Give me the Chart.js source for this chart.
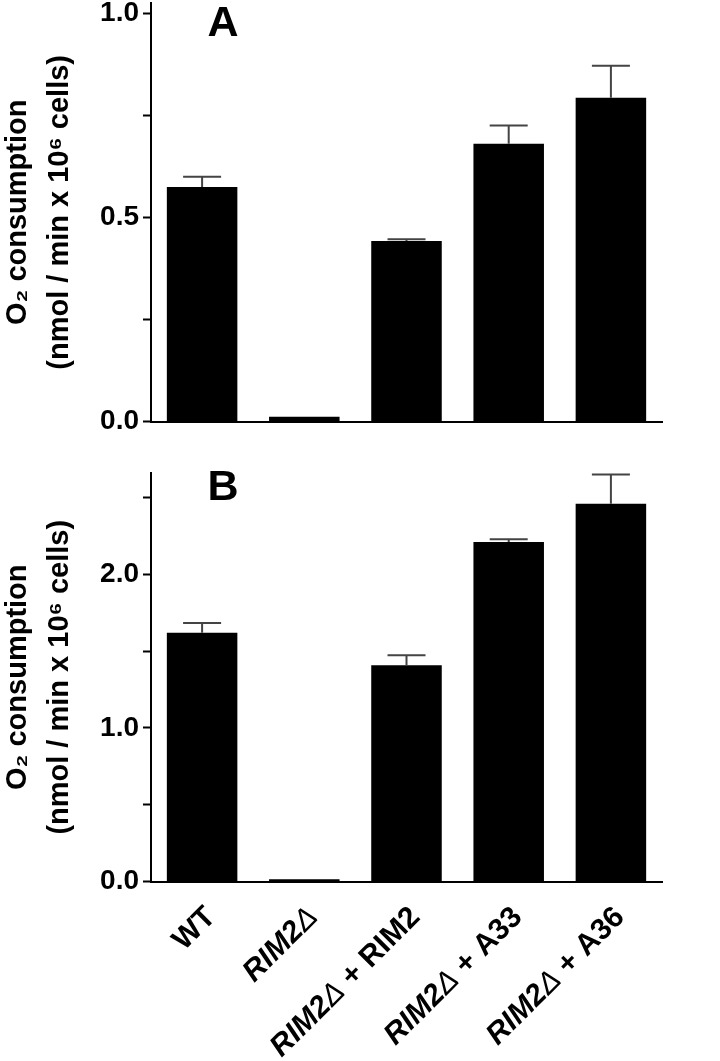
<!DOCTYPE html>
<html>
<head>
<meta charset="utf-8">
<script src="https://cdn.jsdelivr.net/npm/chart.js@4.4.1/dist/chart.umd.min.js"></script>
<style>
  html, body { margin: 0; padding: 0; background: #fff; }
  body { width: 720px; height: 1061px; position: relative; overflow: hidden; }
  .panel { position: absolute; left: 0; width: 720px; }
  #panel-a { top: 0; height: 440px; }
  #panel-b { top: 440px; height: 621px; }
</style>
</head>
<body>
<div class="panel" id="panel-a"><canvas id="chart-a"></canvas></div>
<div class="panel" id="panel-b"><canvas id="chart-b"></canvas></div>
<script>
const FONT = '"Liberation Sans", Arial, sans-serif';

const categories = ['WT', 'RIM2Δ', 'RIM2Δ + RIM2', 'RIM2Δ + A33', 'RIM2Δ + A36'];
const valuesA = [0.575, 0.012, 0.443, 0.681, 0.794];
const errorsA = [0.025, 0, 0.004, 0.045, 0.078];
const valuesB = [1.619, 0.015, 1.408, 2.210, 2.460];
const errorsB = [0.065, 0, 0.065, 0.018, 0.19];
const yTitle = ['O₂ consumption', '(nmol / min x 10⁶ cells)'];

// upper error bars on top of each bar
const errorBarsPlugin = {
  id: 'errorBars',
  afterDatasetsDraw(chart, args, opts) {
    const { ctx, scales: { y } } = chart;
    const meta = chart.getDatasetMeta(0);
    const vals = chart.data.datasets[0].data;
    ctx.save();
    ctx.strokeStyle = '#444';
    ctx.lineWidth = 2;
    meta.data.forEach((bar, i) => {
      const err = opts.errors[i];
      if (!err) return;
      const yTop = y.getPixelForValue(vals[i] + err);
      ctx.beginPath();
      ctx.moveTo(bar.x, bar.y);
      ctx.lineTo(bar.x, yTop);
      ctx.moveTo(bar.x - 19, yTop);
      ctx.lineTo(bar.x + 19, yTop);
      ctx.stroke();
    });
    ctx.restore();
  }
};

const panelLetterPlugin = {
  id: 'panelLetter',
  afterDraw(chart, args, opts) {
    const { ctx } = chart;
    ctx.save();
    ctx.font = 'bold 43px ' + FONT;
    ctx.fillStyle = '#000';
    ctx.textAlign = 'center';
    ctx.textBaseline = 'middle';
    ctx.fillText(opts.text, opts.x, opts.y);
    ctx.restore();
  }
};

// rotated category labels, genotype part in italics
const xLabelsPlugin = {
  id: 'xLabels',
  afterDraw(chart, args, opts) {
    if (!opts.show) return;
    const { ctx, scales: { x }, chartArea } = chart;
    const bold = 'bold 30px ' + FONT;
    const boldItalic = 'italic bold 30px ' + FONT;
    const thinItalic = 'italic 30px ' + FONT;
    categories.forEach((lab, i) => {
      const parts = lab.startsWith('RIM2Δ')
        ? [['RIM2', boldItalic], ['Δ', thinItalic], [lab.slice(5), bold]]
        : [[lab, bold]];
      let total = 0;
      parts.forEach(p => { ctx.font = p[1]; total += ctx.measureText(p[0]).width; });
      ctx.save();
      ctx.translate(x.getPixelForValue(i) + 9, chartArea.bottom + 31);
      ctx.rotate(-Math.PI / 4);
      ctx.fillStyle = '#000';
      ctx.textBaseline = 'middle';
      ctx.textAlign = 'left';
      let cx = -total;
      parts.forEach(p => {
        ctx.font = p[1];
        ctx.fillText(p[0], cx, 0);
        cx += ctx.measureText(p[0]).width;
      });
      ctx.restore();
    });
  }
};

function makePanel(canvasId, values, errors, cfg) {
  return new Chart(document.getElementById(canvasId), {
    type: 'bar',
    plugins: [errorBarsPlugin, panelLetterPlugin, xLabelsPlugin],
    data: {
      labels: categories,
      datasets: [{
        data: values,
        backgroundColor: '#000',
        borderWidth: 0,
        barPercentage: 0.69,
        categoryPercentage: 1.0,
      }]
    },
    options: {
      responsive: true, maintainAspectRatio: false,
      animation: false,
      layout: { padding: { top: cfg.top, right: 58, bottom: 0, left: 0 } },
      plugins: {
        legend: { display: false },
        tooltip: { enabled: false },
        errorBars: { errors },
        panelLetter: { text: cfg.letter, x: 223, y: cfg.letterY },
        xLabels: { show: cfg.showLabels },
      },
      scales: {
        x: {
          ticks: { display: false },
          grid: { display: false },
          border: { display: true, color: '#000', width: 2 },
          afterFit: s => { s.height = cfg.xHeight; },
        },
        y: {
          min: 0, max: cfg.max,
          ticks: {
            stepSize: cfg.step,
            includeBounds: false,
            padding: 4,
            color: '#000',
            font: { family: FONT, size: 28, weight: 'bold' },
            callback: v => {
              const r = v / cfg.major;
              return Math.abs(r - Math.round(r)) < 1e-6 ? v.toFixed(1) : '';
            },
          },
          grid: { drawOnChartArea: false, drawTicks: true, tickLength: 8, tickColor: '#000', tickWidth: 2 },
          border: { display: true, color: '#000', width: 2 },
          title: {
            display: true,
            text: yTitle,
            color: '#000',
            font: { family: FONT, size: 29, weight: 'bold', lineHeight: 1.45 },
            padding: { top: -3, bottom: 0 },
          },
          afterFit: s => { s.width = 151; s.paddingTop = 0; s.paddingBottom = 0; },
        }
      }
    }
  });
}

makePanel('chart-a', valuesA, errorsA, {
  max: 1.026, step: 0.25, major: 0.5, top: 3, xHeight: 18.3,
  letter: 'A', letterY: 24, showLabels: false,
});
makePanel('chart-b', valuesB, errorsB, {
  max: 2.66, step: 0.5, major: 1.0, top: 33, xHeight: 179.5,
  letter: 'B', letterY: 48, showLabels: true,
});
</script>
</body>
</html>
